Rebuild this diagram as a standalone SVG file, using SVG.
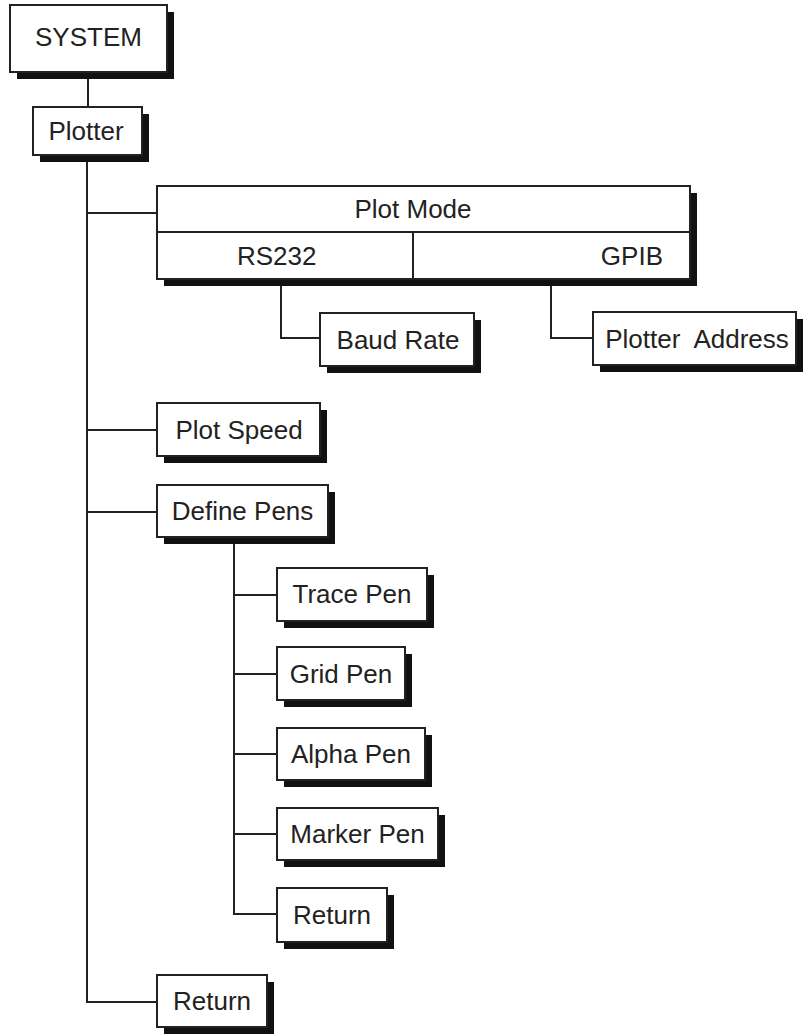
<svg xmlns="http://www.w3.org/2000/svg" width="804" height="1034" viewBox="0 0 804 1034">
<style>
.sh{fill:#111;stroke:none}
.bx{fill:#fff;stroke:#222;stroke-width:2}
.ln{fill:none;stroke:#222;stroke-width:2}
text{font-family:"Liberation Sans",Arial,sans-serif;font-size:26px;fill:#222}
.c{text-anchor:middle}
</style>
<rect width="804" height="1034" fill="#fff"/>
<g id="connectors" class="ln">
<path d="M88,72 V107"/>
<path d="M87,155 V1002 H157"/>
<path d="M87,213 H157"/>
<path d="M87,430 H157"/>
<path d="M87,512 H157"/>
<path d="M281,279 V338 H320"/>
<path d="M551,279 V338 H593"/>
<path d="M234,537 V914 H277"/>
<path d="M234,595 H277"/>
<path d="M234,674 H277"/>
<path d="M234,754 H277"/>
<path d="M234,834 H277"/>
</g>
<g id="system"><rect class="sh" x="17" y="12" width="157" height="67"/><rect class="bx" x="10" y="5" width="157" height="67"/><text class="c" x="88.5" y="46">SYSTEM</text></g>
<g id="plotter"><rect class="sh" x="40" y="114" width="109" height="48"/><rect class="bx" x="33" y="107" width="109" height="48"/><text class="c" x="86" y="140">Plotter</text></g>
<g id="plotmode"><rect class="sh" x="164" y="193" width="533" height="93"/><rect class="bx" x="157" y="186" width="533" height="93"/><path class="ln" d="M157,232 H690 M413,232 V279"/><text class="c" x="413" y="218">Plot Mode</text><text x="237" y="265">RS232</text><text x="663" y="265" text-anchor="end">GPIB</text></g>
<g id="baudrate"><rect class="sh" x="327" y="320" width="154" height="53"/><rect class="bx" x="320" y="313" width="154" height="53"/><text class="c" x="398" y="349">Baud Rate</text></g>
<g id="plotteraddress"><rect class="sh" x="600" y="319" width="203" height="53"/><rect class="bx" x="593" y="312" width="203" height="53"/><text class="c" x="697" y="348" xml:space="preserve">Plotter  Address</text></g>
<g id="plotspeed"><rect class="sh" x="164" y="410" width="163" height="53"/><rect class="bx" x="157" y="403" width="163" height="53"/><text class="c" x="239" y="439">Plot Speed</text></g>
<g id="definepens"><rect class="sh" x="164" y="492" width="171" height="52"/><rect class="bx" x="157" y="485" width="171" height="52"/><text class="c" x="242.5" y="520">Define Pens</text></g>
<g id="tracepen"><rect class="sh" x="284" y="575" width="150" height="53"/><rect class="bx" x="277" y="568" width="150" height="53"/><text class="c" x="352" y="603">Trace Pen</text></g>
<g id="gridpen"><rect class="sh" x="284" y="654" width="128" height="53"/><rect class="bx" x="277" y="647" width="128" height="53"/><text class="c" x="341" y="683">Grid Pen</text></g>
<g id="alphapen"><rect class="sh" x="284" y="735" width="148" height="52"/><rect class="bx" x="277" y="728" width="148" height="52"/><text class="c" x="351" y="763">Alpha Pen</text></g>
<g id="markerpen"><rect class="sh" x="284" y="815" width="161" height="52"/><rect class="bx" x="277" y="808" width="161" height="52"/><text class="c" x="357.5" y="843">Marker Pen</text></g>
<g id="return2"><rect class="sh" x="284" y="895" width="110" height="54"/><rect class="bx" x="277" y="888" width="110" height="54"/><text class="c" x="332" y="924">Return</text></g>
<g id="return1"><rect class="sh" x="164" y="982" width="110" height="52"/><rect class="bx" x="157" y="975" width="110" height="52"/><text class="c" x="212" y="1010">Return</text></g>
</svg>
